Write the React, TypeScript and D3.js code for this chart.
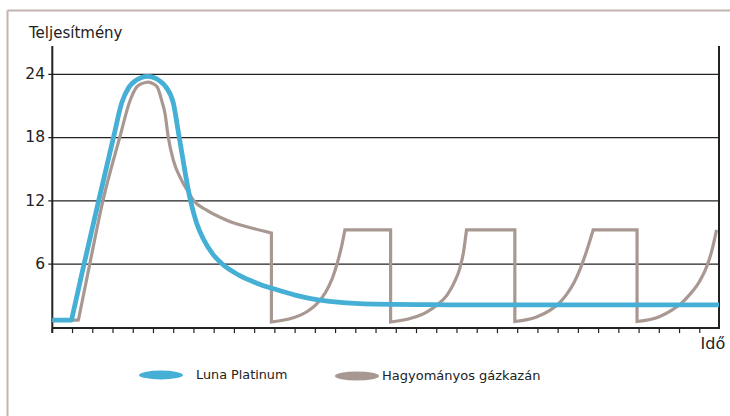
import React from "react";
import * as d3 from "d3";

// ---- data (x in time-tick units, y in power units) ----
const yTickValues = [6, 12, 18, 24];
const xTickValues = d3.range(0, 33);
const yAxisTitle = "Teljesítmény";
const xAxisTitle = "Idő";
const seriesNames = ["Luna Platinum", "Hagyományos gázkazán"];

const lunaSegments: [number, number][][] = [
  [[0, 0.69], [0.95, 0.69]],
  [
    [0.95, 0.69], [1.57, 6], [2.29, 12], [3.03, 18.07], [3.43, 21.3], [3.79, 22.8],
    [4.13, 23.44], [4.41, 23.72], [4.7, 23.82], [5.0, 23.72], [5.27, 23.44], [5.62, 22.8],
    [5.98, 21.3], [6.27, 18.07], [6.82, 12.1], [7.13, 9.9], [7.46, 8.4], [7.95, 6.9],
    [8.4, 6.0], [9.27, 4.9], [10.3, 4.05], [11.3, 3.45], [12.0, 3.05], [13.7, 2.45],
    [15.4, 2.22], [18.7, 2.15], [22.1, 2.12], [32.95, 2.12],
  ],
];

const gasSegments: [number, number][][] = [
  [[0, 0.69], [1.29, 0.69]],
  [
    [1.29, 0.69], [1.85, 6], [2.5, 12], [3.34, 18.07], [3.84, 21.5], [4.17, 22.8],
    [4.45, 23.15], [4.74, 23.28], [5.0, 23.1], [5.19, 22.8], [5.41, 21.5], [5.57, 20.3],
    [5.73, 18.07], [5.98, 15.86], [6.39, 13.96], [6.72, 12.85], [6.97, 12.07],
    [7.63, 11.12], [8.62, 10.17], [9.93, 9.38], [10.83, 8.95],
  ],
  [
    [10.83, 0.5], [11.9, 0.9], [12.6, 1.5], [13.06, 2.2], [13.5, 3.3], [13.85, 4.7],
    [14.1, 6.2], [14.3, 7.7], [14.46, 9.24],
  ],
  [[14.46, 9.24], [16.72, 9.24]],
  [
    [16.72, 0.5], [17.8, 0.9], [18.5, 1.45], [19.0, 2.1], [19.49, 3.0], [19.85, 4.2],
    [20.14, 5.6], [20.32, 7.1], [20.47, 9.24],
  ],
  [[20.47, 9.24], [22.86, 9.24]],
  [
    [22.86, 0.55], [23.9, 0.95], [24.59, 1.6], [25.05, 2.3], [25.41, 3.1], [25.8, 4.3],
    [26.1, 5.6], [26.4, 7.2], [26.73, 9.24],
  ],
  [[26.73, 9.24], [28.9, 9.24]],
  [
    [28.9, 0.55], [30.0, 1.0], [30.6, 1.6], [31.01, 2.15], [31.5, 3.1], [32.0, 4.4],
    [32.35, 5.8], [32.6, 7.3], [32.83, 9.24],
  ],
];

const X_MAX = 32.95;
const Y_MAX = 26.7;

const BLUE = "#46afd5";
const BROWN = "#a89891";
const AXIS = "#222";
const FONT = "'DejaVu Sans', Verdana, sans-serif";

export default function App() {
  const W = 730;
  const H = 416;
  const x = d3.scaleLinear().domain([0, X_MAX]).range([52.3, 719]);
  const y = d3.scaleLinear().domain([0, Y_MAX]).range([327.3, 46]);

  const line = d3
    .line<[number, number]>()
    .x((d) => x(d[0]))
    .y((d) => y(d[1]))
    .curve(d3.curveMonotoneX);

  const buildPath = (segs: [number, number][][]) =>
    segs
      .map((s, i) => {
        const p = line(s) || "";
        return i === 0 ? p : p.replace(/^M/, "L");
      })
      .join("");

  const x0 = x(0);
  const x1 = x(X_MAX);
  const yBase = y(0) + 0.8;

  return (
    <svg
      width={W}
      height={H}
      style={{ position: "absolute", left: 0, top: 0, display: "block", background: "#fff" }}
    >
      {/* frame */}
      <line x1={7.5} y1={10.5} x2={W} y2={10.5} stroke="#c2b4ae" strokeWidth={2} />
      <line x1={7.5} y1={10.5} x2={7.5} y2={H} stroke="#c2b4ae" strokeWidth={2} />

      {/* grid lines with left ticks */}
      {yTickValues.map((v) => (
        <line key={"g" + v} x1={x0 - 4} x2={x1} y1={y(v)} y2={y(v)} stroke={AXIS} strokeWidth={1.3} />
      ))}

      {/* x ticks */}
      {xTickValues.map((t) => (
        <line key={"t" + t} x1={x(t)} x2={x(t)} y1={yBase} y2={yBase + 5} stroke={AXIS} strokeWidth={1.2} />
      ))}

      {/* axes */}
      <line x1={x0} x2={x0} y1={y(Y_MAX)} y2={yBase + 5} stroke={AXIS} strokeWidth={2} />
      <line x1={x1} x2={x1} y1={y(Y_MAX)} y2={yBase + 1} stroke={AXIS} strokeWidth={2} />
      <line x1={x0} x2={x1} y1={yBase} y2={yBase} stroke={AXIS} strokeWidth={2} />

      {/* y tick labels */}
      {yTickValues.map((v) => (
        <text
          key={"l" + v}
          x={45}
          y={y(v) + 4.8}
          textAnchor="end"
          fontFamily={FONT}
          fontSize={15.5}
          fill="#222"
        >
          {v}
        </text>
      ))}

      <text x={29} y={38.3} fontFamily={FONT} fontSize={15} fill="#222">
        {yAxisTitle}
      </text>
      <text x={700.5} y={349.3} fontFamily={FONT} fontSize={16} fill="#222">
        {xAxisTitle}
      </text>

      {/* series */}
      <path d={buildPath(gasSegments)} fill="none" stroke={BROWN} strokeWidth={3.2} strokeLinejoin="miter" />
      <path d={buildPath(lunaSegments)} fill="none" stroke={BLUE} strokeWidth={4.8} strokeLinejoin="round" />

      {/* legend */}
      <ellipse cx={161} cy={375} rx={22} ry={4.4} fill={BLUE} />
      <text x={196} y={379} fontFamily={FONT} fontSize={12.8} fill="#222">
        {seriesNames[0]}
      </text>
      <ellipse cx={357} cy={376} rx={22} ry={4.5} fill={BROWN} />
      <text x={382} y={379.5} fontFamily={FONT} fontSize={13} fill="#222">
        {seriesNames[1]}
      </text>
    </svg>
  );
}
